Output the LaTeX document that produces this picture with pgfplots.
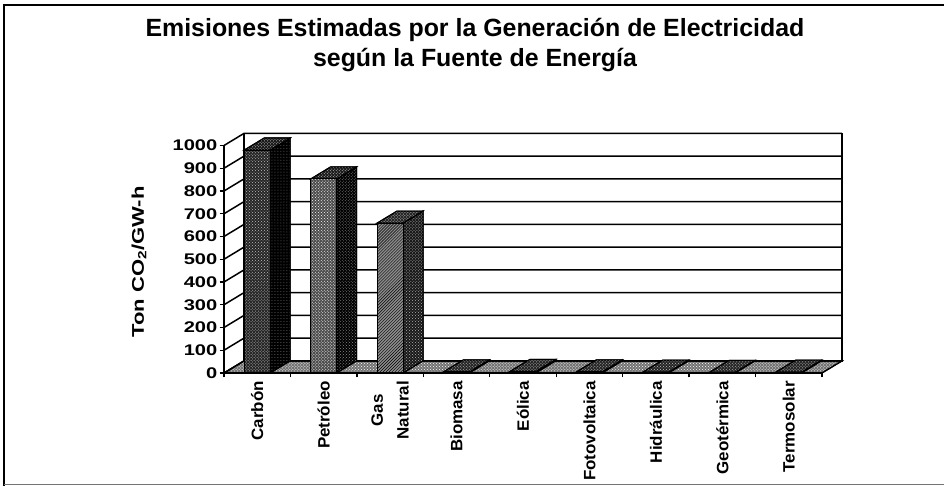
\documentclass[border=0pt]{standalone}
\usepackage{pgfplots}
\pgfplotsset{compat=1.18}
\usetikzlibrary{patterns}
\usepackage{fontspec}
\setmainfont{Liberation Sans}
\newfontfamily\tickfont{Liberation Sans}[FakeStretch=1.3]
\newfontfamily\labfont{Liberation Sans}[FakeStretch=1.03]

% 3D-looking bar: #1 category centre, #2 value, #3 front, #4 side, #5 top style
\newcommand{\cube}[5]{%
  \pgfmathsetmacro\xa{#1-0.195}%
  \pgfmathsetmacro\xb{#1+0.195}%
  \pgfmathsetmacro\xc{#1+0.495}%
  \pgfmathsetmacro\xd{#1+0.105}%
  \pgfmathsetmacro\vt{#2+53}%
  \edef\doit{%
   \noexpand\addplot[\unexpanded{#4}] coordinates {(\xb,0) (\xc,53) (\xc,\vt) (\xb,#2)} -- cycle;%
   \noexpand\addplot[\unexpanded{#5}] coordinates {(\xa,#2) (\xb,#2) (\xc,\vt) (\xd,\vt)} -- cycle;%
   \noexpand\addplot[\unexpanded{#3}] coordinates {(\xa,0) (\xb,0) (\xb,#2) (\xa,#2)} -- cycle;%
  }\doit}
% wall line for value #1: slanted on the left wall, horizontal on the back wall
\newcommand{\wall}[1]{%
  \pgfmathsetmacro\vb{#1+53}%
  \edef\doit{\noexpand\addplot[black, line width=1.5bp] coordinates {(0,#1) (0.3,\vb) (9.3,\vb)};}\doit}

\tikzset{
 face/.style={draw=black, line width=1bp},
 cfront/.style={face, fill=black!85, postaction={pattern=crosshatch dots, pattern color=black!25}},
 cside/.style={face, fill=black, postaction={pattern=dots, pattern color=black!55}},
 ctop/.style={face, fill=black!90, postaction={pattern=crosshatch dots, pattern color=black!20}},
 pfront/.style={face, fill=black!70, postaction={pattern=crosshatch dots, pattern color=white}},
 pside/.style={face, fill=black, postaction={pattern=crosshatch dots, pattern color=black!45}},
 ptop/.style={face, fill=black!90, postaction={pattern=crosshatch dots, pattern color=black!20}},
 gfront/.style={face, fill=black!45, postaction={pattern=north east lines, pattern color=black}},
 gside/.style={face, fill=black!90, postaction={pattern=crosshatch dots, pattern color=black!30}},
 gtop/.style={face, fill=black!85, postaction={pattern=crosshatch dots, pattern color=black!20}},
 rfront/.style={face, fill=black!80, postaction={pattern=crosshatch dots, pattern color=white}},
 rside/.style={face, fill=black},
 rtop/.style={face, fill=black!85, postaction={pattern=crosshatch dots, pattern color=black!25}},
 floor/.style={draw=black, line width=1.2bp, fill=black!55, postaction={pattern=crosshatch dots, pattern color=white}},
}

\begin{document}
\begin{tikzpicture}[x=1bp,y=1bp]
\useasboundingbox (0,0) rectangle (944,486);
\draw[line width=1.3bp] (4,0) -- (4,481) -- (944,481);
\draw[line width=1bp, black!55] (4,1.2) -- (944,1.2);
\node[font=\bfseries\fontsize{25}{30}\selectfont, anchor=base] at (475,449) {Emisiones Estimadas por la Generación de Electricidad};
\node[font=\bfseries\fontsize{25}{30}\selectfont, anchor=base] at (475,419) {según la Fuente de Energía};
\begin{axis}[
  at={(224bp,113bp)}, anchor=south west,
  scale only axis, width=598bp, height=227.5bp,
  xmin=0, xmax=9, ymin=0, ymax=1000,
  clip=false, axis on top,
  axis x line=bottom, axis y line=left,
  axis line style={-, line width=1.8bp},
  tick style={black, line width=1.3bp},
  tick align=outside, major tick length=4.5bp,
  ytick={0,100,...,1000},
  /pgf/number format/assume math mode=true,
  /pgf/number format/1000 sep={},
  yticklabel style={font=\tickfont\bfseries\fontsize{15.5}{15.5}\selectfont, inner sep=2bp},
  ylabel={Ton CO\textsubscript{2}/GW-h},
  ylabel style={at={(axis cs:0,488)}, anchor=center, yshift=85bp, font=\tickfont\bfseries\fontsize{17}{17}\selectfont},
  xtick={0,1,...,9}, xticklabels={},
  extra x ticks={0.5,1.5,...,8.5},
  extra x tick labels={Carbón,Petróleo,{Gas\\Natural},Biomasa,Eólica,Fotovoltaica,Hidráulica,Geotérmica,Termosolar},
  extra x tick style={major tick length=0pt, tick style={draw=none},
    xticklabel style={rotate=90, anchor=east, align=center, font=\labfont\bfseries\fontsize{16.5}{26}\selectfont, inner xsep=8bp, inner ysep=0pt}},
]
% back wall
\addplot[draw=black, line width=1.6bp, fill=white] coordinates {(0.3,53) (9.3,53) (9.3,1053) (0.3,1053)} -- cycle;
% floor
\addplot[floor] coordinates {(0,0) (9,0) (9.3,53) (0.3,53)} -- cycle;
% wall lines
\wall{0}\wall{100}\wall{200}\wall{300}\wall{400}\wall{500}
\wall{600}\wall{700}\wall{800}\wall{900}\wall{1000}
% bars
\cube{0.5}{980}{cfront}{cside}{ctop}
\cube{1.5}{853}{pfront}{pside}{ptop}
\cube{2.5}{659}{gfront}{gside}{gtop}
\cube{3.5}{5}{rfront}{rside}{rtop}
\cube{4.5}{7}{rfront}{rside}{rtop}
\cube{5.5}{5}{rfront}{rside}{rtop}
\cube{6.5}{4}{rfront}{rside}{rtop}
\cube{7.5}{3}{rfront}{rside}{rtop}
\cube{8.5}{4}{rfront}{rside}{rtop}
\end{axis}
\end{tikzpicture}
\end{document}
